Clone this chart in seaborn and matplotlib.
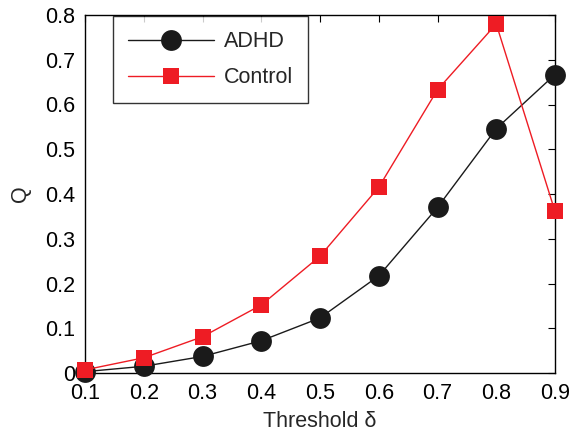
import matplotlib
matplotlib.use("Agg")
import matplotlib.pyplot as plt
import seaborn as sns
import pandas as pd
from matplotlib.lines import Line2D

thresholds = [0.1, 0.2, 0.3, 0.4, 0.5, 0.6, 0.7, 0.8, 0.9]
adhd = [0.003, 0.015, 0.037, 0.072, 0.123, 0.217, 0.370, 0.546, 0.667]
control = [0.007, 0.034, 0.081, 0.152, 0.261, 0.415, 0.633, 0.780, 0.361]
groups = ["ADHD", "Control"]
xticks = [0.1, 0.2, 0.3, 0.4, 0.5, 0.6, 0.7, 0.8, 0.9]
yticks = [0, 0.1, 0.2, 0.3, 0.4, 0.5, 0.6, 0.7, 0.8]
yticklabels = ["0", "0.1", "0.2", "0.3", "0.4", "0.5", "0.6", "0.7", "0.8"]

df = pd.DataFrame({
    "Threshold": thresholds * 2,
    "Q": adhd + control,
    "Group": [groups[0]] * len(thresholds) + [groups[1]] * len(thresholds),
})

sns.set_style("white")
plt.rcParams["font.family"] = ["Liberation Sans", "DejaVu Sans"]

fig = plt.figure(figsize=(5.75, 4.34), dpi=100)
ax = fig.add_axes([85/575, 1-373/434, (555-85)/575, (373-15)/434])

sns.lineplot(data=df, x="Threshold", y="Q", hue="Group", style="Group",
             palette={"ADHD": "#1a1a1a", "Control": "#ee1c24"},
             markers={"ADHD": "o", "Control": "s"}, dashes=False,
             markersize=15, linewidth=1.0, markeredgewidth=0,
             ax=ax, legend=False)
for line in ax.lines:
    line.set_clip_on(False)
    line.set_zorder(5)
    if line.get_marker() == "s":
        line.set_markersize(12)

ax.set_xlim(0.1, 0.9)
ax.set_ylim(0, 0.8)
ax.set_xticks(xticks)
ax.set_xticklabels([f"{t:.1f}" for t in xticks])
ax.set_yticks(yticks)
ax.set_yticklabels(yticklabels)
ax.tick_params(direction="in", length=5, width=0.8, labelsize=15.5,
               top=True, right=True, colors="black", pad=7)
for s in ax.spines.values():
    s.set_visible(True)
    s.set_color("black")
    s.set_linewidth(1.0)
ax.set_xlabel("Threshold δ", fontsize=15.5, labelpad=5)
ax.set_ylabel("Q", fontsize=15.5, labelpad=10)

handles = [
    Line2D([], [], color="#1a1a1a", marker="o", markersize=15, linewidth=1.0, markeredgewidth=0),
    Line2D([], [], color="#ee1c24", marker="s", markersize=12, linewidth=1.0, markeredgewidth=0),
]
leg = ax.legend(handles, groups, loc="upper left",
                bbox_to_anchor=(28/470, 1 - 1/358),
                fontsize=15.5, frameon=True, fancybox=False, edgecolor="black",
                borderpad=0.7, handlelength=4.0, handletextpad=0.45,
                labelspacing=0.7, borderaxespad=0.0)
leg.get_frame().set_linewidth(1.0)
leg.set_zorder(10)

fig.savefig("out.png", dpi=100)
